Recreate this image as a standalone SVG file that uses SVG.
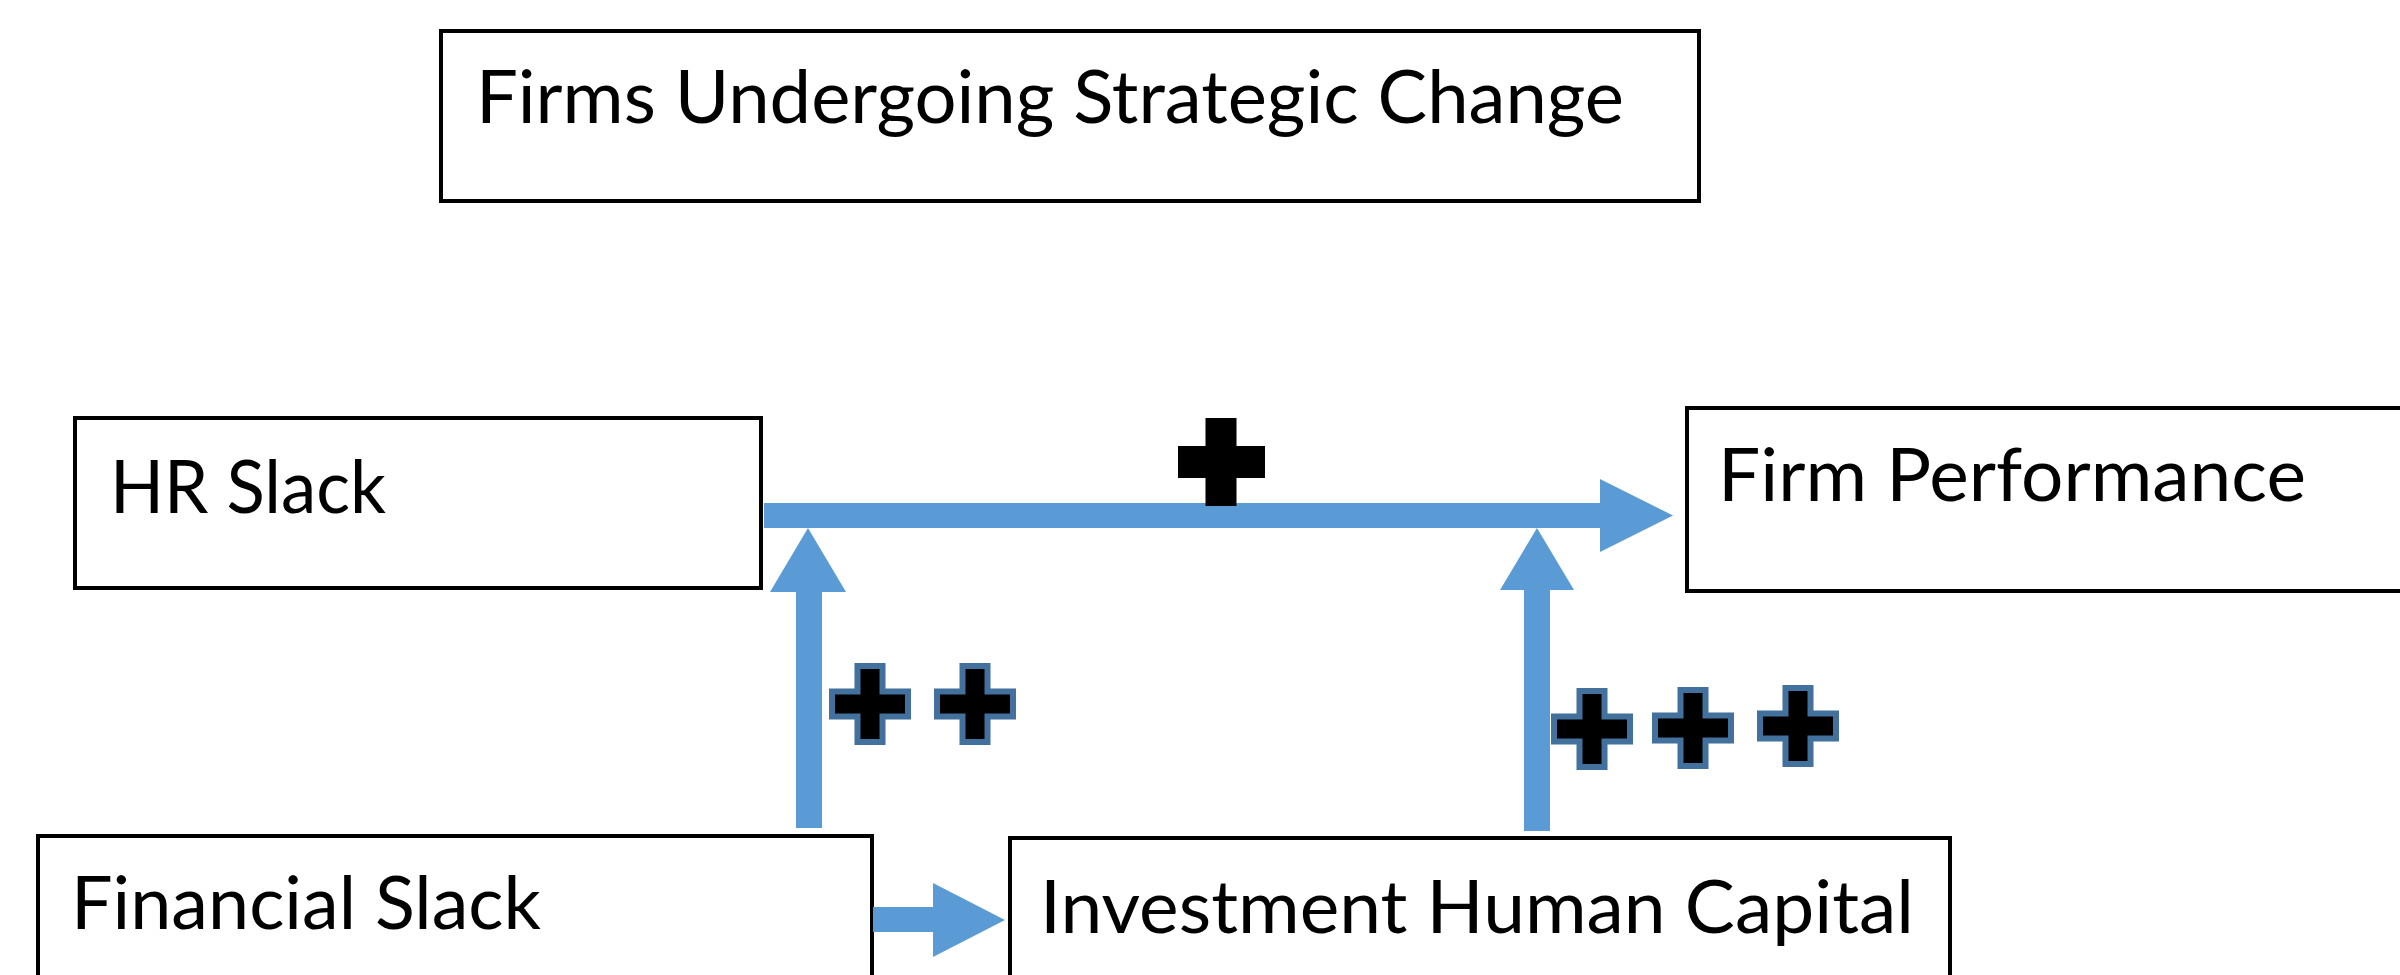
<svg xmlns="http://www.w3.org/2000/svg" xmlns:xlink="http://www.w3.org/1999/xlink" width="2400" height="975" viewBox="0 0 2400 975">
  <style>
    .box { fill: #ffffff; stroke: #000000; stroke-width: 4; }
    .lbl { font-family: "Lato", "Open Sans", "Liberation Sans", sans-serif; font-size: 74px; fill: #000000; }
    .conn { fill: #5B9BD5; stroke: none; }
    .plus { fill: #000000; stroke: #41719C; stroke-width: 6; stroke-linejoin: miter; }
    .plus-solid { fill: #000000; stroke: none; }
  </style>
  <defs>
    <path id="cross" d="M -12.5 -38 H 12.5 V -12.5 H 38 V 12.5 H 12.5 V 38 H -12.5 V 12.5 H -38 V -12.5 H -12.5 Z"/>
  </defs>
  <rect width="2400" height="975" fill="#ffffff"/>

  <g id="node-firms-strategic-change">
    <rect class="box" x="441" y="31" width="1258" height="170"/>
    <text class="lbl" x="476" y="123" textLength="1148" lengthAdjust="spacingAndGlyphs">Firms Undergoing Strategic Change</text>
  </g>

  <g id="node-hr-slack">
    <rect class="box" x="75" y="418" width="686" height="170"/>
    <text class="lbl" x="110" y="513" textLength="276" lengthAdjust="spacingAndGlyphs">HR Slack</text>
  </g>

  <g id="node-firm-performance">
    <rect class="box" x="1687" y="408" width="740" height="183"/>
    <text class="lbl" x="1718" y="501" textLength="588" lengthAdjust="spacingAndGlyphs">Firm Performance</text>
  </g>

  <g id="node-financial-slack">
    <rect class="box" x="38" y="836" width="834" height="200"/>
    <text class="lbl" x="71" y="929" textLength="470" lengthAdjust="spacingAndGlyphs">Financial Slack</text>
  </g>

  <g id="node-investment-human-capital">
    <rect class="box" x="1010" y="838" width="940" height="200"/>
    <text class="lbl" x="1040" y="933" textLength="874" lengthAdjust="spacingAndGlyphs">Investment Human Capital</text>
  </g>

  <g id="connectors">
    <!-- HR Slack to Firm Performance -->
    <path class="conn" d="M 764 503 H 1600 V 479 L 1673 515.5 L 1600 552 V 528 H 764 Z"/>
    <!-- Financial Slack (moderator) up to HR->FP link -->
    <path class="conn" d="M 796 828 V 592 H 770 L 808 528 L 846 592 H 822 V 828 Z"/>
    <!-- Investment Human Capital up to HR->FP link -->
    <path class="conn" d="M 1524 831 V 590 H 1500 L 1537 528 L 1574 590 H 1550 V 831 Z"/>
    <!-- Financial Slack to Investment Human Capital -->
    <path class="conn" d="M 873 907 H 933 V 883 L 1005 920 L 933 957 V 932 H 873 Z"/>
  </g>

  <g id="edge-labels">
    <path class="plus-solid" d="M 1205.5 418 H 1236.5 V 446 H 1265 V 478 H 1236.5 V 506 H 1205.5 V 478 H 1178 V 446 H 1205.5 Z"/>
    <use xlink:href="#cross" class="plus" x="870" y="704"/>
    <use xlink:href="#cross" class="plus" x="975" y="704"/>
    <use xlink:href="#cross" class="plus" x="1592" y="729"/>
    <use xlink:href="#cross" class="plus" x="1693" y="728"/>
    <use xlink:href="#cross" class="plus" x="1798" y="726"/>
  </g>
</svg>
